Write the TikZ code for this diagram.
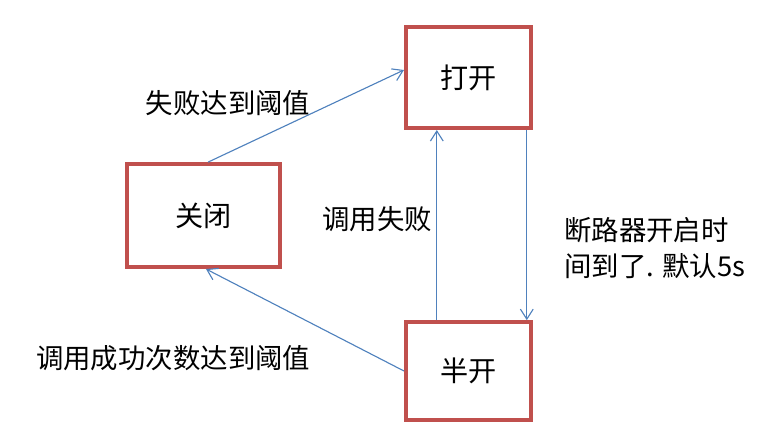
\documentclass[tikz,border=0pt]{standalone}
\usepackage{fontspec}
\setmainfont{Noto Sans CJK SC}
\usetikzlibrary{calc,arrows.meta}
\definecolor{boxred}{HTML}{C0504D}
\definecolor{lineblue}{HTML}{4F81BD}

\begin{document}
\begin{tikzpicture}[
    state/.style={rectangle, draw=boxred, line width=2.6pt, font=\fontsize{20}{22}\selectfont},
    trans/.style={->, >={Straight Barb[length=2.5mm,width=3.2mm]}, draw=lineblue, thick},
    note/.style={font=\fontsize{19.5}{25}\selectfont, align=left}
]
\useasboundingbox (0,0) rectangle (19.55,11.15);

% States
\node[state, minimum width=3.83cm, minimum height=2.58cm] (closed) at (5.09,5.76) {关闭};
\node[state, minimum width=3.13cm, minimum height=2.53cm] (open) at (11.71,9.21) {打开};
\node[state, minimum width=3.13cm, minimum height=2.45cm] (halfopen) at (11.71,1.875) {半开};

% Transitions
\draw[trans] ($(closed.north)+(0.11,0)$) -- ($(open.west)+(0,0.19)$);
\draw[trans] ($(halfopen.north)+(-0.79,0)$) -- ($(open.south)+(-0.79,0)$);
\draw[trans] ($(open.south)+(1.46,0)$) -- ($(halfopen.north)+(1.46,0)$);
\draw[trans] (halfopen.west) -- ($(closed.south)+(0.06,0)$);

% Labels
\node[note] (lblfail) at (5.7,8.575) {失败达到阈值};
\node[note] (lblcall) at (9.43,5.68) {调用失败};
\node[note, anchor=west] (lbltime) at (13.98,4.95) {断路器开启时\\间到了. 默认5s};
\node[note] (lblok) at (4.33,2.2) {调用成功次数达到阈值};
\end{tikzpicture}
\end{document}
